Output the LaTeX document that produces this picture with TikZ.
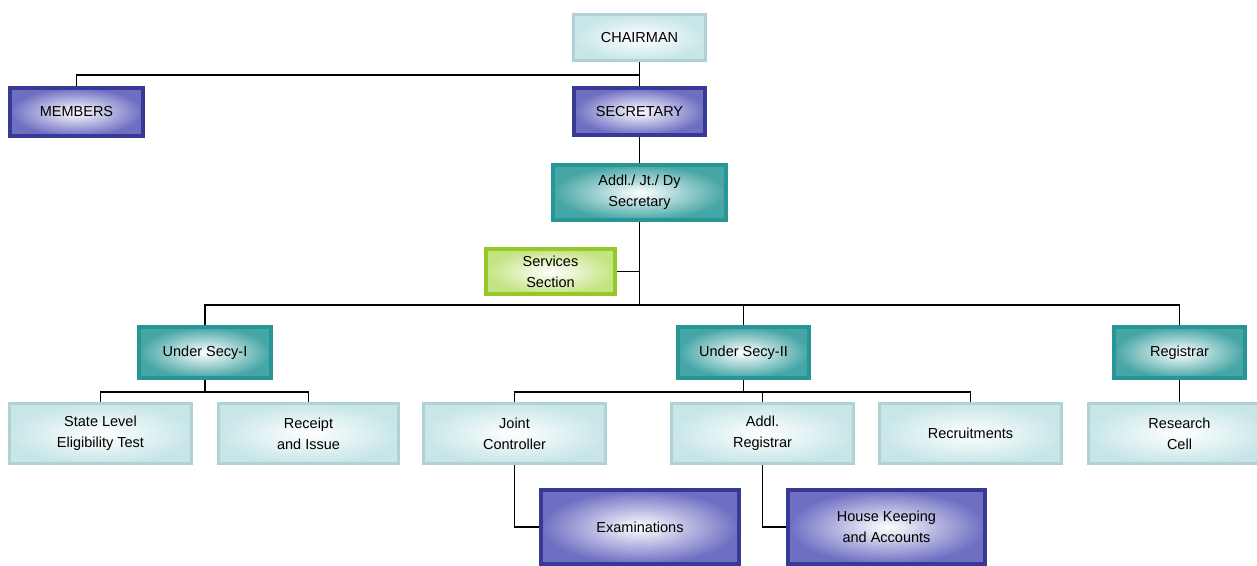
\documentclass[tikz,border=0pt]{standalone}
\usepackage{fontspec}
\setmainfont{Liberation Sans}
\usepackage{tikz}

\definecolor{paleedge}{RGB}{176,210,212}
\definecolor{palefill}{RGB}{200,230,232}
\definecolor{tealedge}{RGB}{38,150,150}
\definecolor{tealfill}{RGB}{70,165,165}
\definecolor{navyedge}{RGB}{56,56,150}
\definecolor{navyfill}{RGB}{110,110,195}
\definecolor{greenedge}{RGB}{150,200,40}
\definecolor{greenfill}{RGB}{195,228,130}

\begin{document}
\begin{tikzpicture}[x=1pt,y=-1pt,
    box/.style={rectangle, inner sep=2pt, align=center, text=black,
      font=\fontsize{14.5}{21}\selectfont},
    pale/.style={box, draw=paleedge, line width=3pt, inner color=white, outer color=palefill},
    tealbox/.style={box, draw=tealedge, line width=4pt, inner color=white, outer color=tealfill},
    navybox/.style={box, draw=navyedge, line width=4pt, inner color=white, outer color=navyfill},
    greenbox/.style={box, draw=greenedge, line width=4pt, inner color=white, outer color=greenfill},
    link/.style={draw=black, line width=1.3pt}]

    \useasboundingbox (0,0) rectangle (1257,565);

    % top levels
    \node[pale, minimum width=132, minimum height=46] (chair) at (639.5,37.5) {CHAIRMAN};
    \node[navybox, minimum width=133, minimum height=48] (members) at (76.5,112) {MEMBERS};
    \node[navybox, minimum width=131, minimum height=47] (secy) at (639.5,111.5) {SECRETARY};
    \node[tealbox, minimum width=173, minimum height=55] (addl) at (639.5,192.5) {Addl./ Jt./ Dy\\Secretary};
    \node[greenbox, minimum width=129, minimum height=45] (services) at (550.5,271.5) {Services\\Section};

    % under secretaries
    \node[tealbox, minimum width=132, minimum height=51] (usec1) at (205,352.5) {Under Secy-I};
    \node[tealbox, minimum width=131, minimum height=51] (usec2) at (743.5,352.5) {Under Secy-II};
    \node[tealbox, minimum width=131, minimum height=51] (registrar) at (1179.5,352.5) {Registrar};

    % sections
    \node[pale, minimum width=182, minimum height=60] (sle) at (100.5,433.5) {State Level\\Eligibility Test};
    \node[pale, minimum width=180, minimum height=60] (receipt) at (308.5,433.5) {Receipt\\and Issue};
    \node[pale, minimum width=182, minimum height=60] (joint) at (514.5,433.5) {Joint\\Controller};
    \node[pale, minimum width=182, minimum height=60] (addlreg) at (762.5,433.5) {Addl.\\Registrar};
    \node[pale, minimum width=182, minimum height=60] (recruit) at (970.5,433.5) {Recruitments};
    \node[pale, minimum width=182, minimum height=60] (research) at (1179.5,433.5) {Research\\Cell};

    \node[navybox, minimum width=198, minimum height=74] (exam) at (640,527) {Examinations};
    \node[navybox, minimum width=197, minimum height=74] (house) at (886.5,527) {House Keeping\\and Accounts};

    % connectors
    \coordinate (topbus) at (639.5,75);
    \coordinate (midbus) at (639.5,305);
    \draw[link] (chair.south) -- (secy.north);
    \draw[link] (members.north) |- (topbus);
    \draw[link] (secy.south) -- (addl.north);
    \draw[link] (addl.south) -- (midbus);
    \draw[link] (services.east) -- (services.east -| addl.south);
    \draw[link] (usec1.north) |- (midbus);
    \draw[link] (registrar.north) |- (midbus);
    \draw[link] (usec2.north) -- (usec2.north |- midbus);

    \draw[link] (usec1.south) -- ++(0,12) coordinate (bus1);
    \draw[link] (sle.north) |- (bus1) -| (receipt.north);
    \draw[link] (usec2.south) -- ++(0,12) coordinate (bus2);
    \draw[link] (joint.north) |- (bus2) -| (recruit.north);
    \draw[link] (addlreg.north) -- (addlreg.north |- bus2);
    \draw[link] (registrar.south) -- (research.north);

    \draw[link] (joint.south) |- (exam.west);
    \draw[link] (addlreg.south) |- (house.west);
\end{tikzpicture}
\end{document}
